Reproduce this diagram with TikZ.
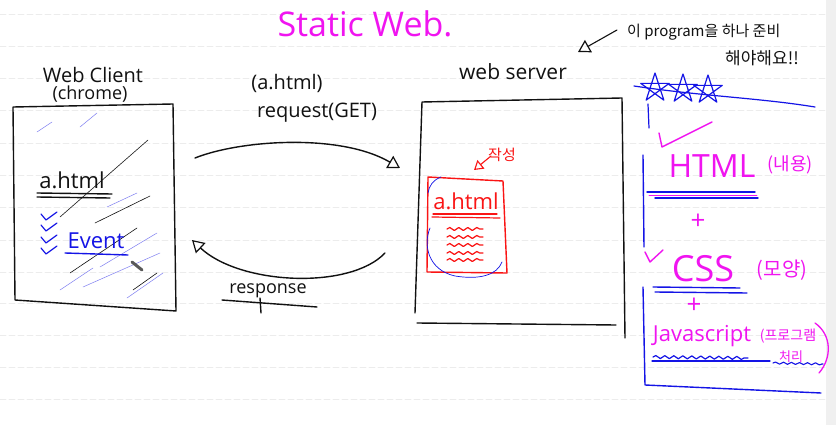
\documentclass[tikz,border=0pt]{standalone}
\usepackage{fontspec}
\setmainfont{Open Sans}
\newfontfamily\kr{Noto Sans CJK KR}
\usetikzlibrary{arrows.meta,decorations.pathmorphing}
\definecolor{mag}{RGB}{240,20,240}
\definecolor{pen}{RGB}{20,20,230}
\definecolor{redpen}{RGB}{250,20,20}
\definecolor{ruled}{RGB}{236,236,236}
\definecolor{ink}{RGB}{17,17,17}
\newcommand{\fs}[1]{\fontsize{#1}{#1}\selectfont}
\begin{document}
\begin{tikzpicture}[x=1pt,y=-1pt,line cap=round,line join=round,
  stroke/.style={line width=1.4pt,draw=ink},
  fine/.style={line width=0.7pt},
  txt/.style={inner sep=0pt,anchor=center,text=ink},
  tip/.style={-{Triangle[open,length=12pt,width=14pt,line width=1.2pt]}},
  wave/.style={decorate,decoration={snake,amplitude=1.5pt,segment length=9pt}}]
\useasboundingbox (0,0) rectangle (836,425);
\fill[white] (0,0) rectangle (836,425);
\foreach \y in {14,46,78,110,143,175,207,240,272,303,335,367,399}
  \draw[ruled,line width=0.8pt,dash pattern=on 6pt off 3pt] (0,\y) -- (826,\y);
\fill[gray!12] (826,0) rectangle (836,425);

% title
\node[txt,text=mag,font=\fs{34}] (title) at (365,24) {Static Web.};

% top-right note
\node[txt,anchor=west,font=\kr\fs{15}] (note1) at (627,32) {이 program을 하나 준비};
\node[txt,anchor=west,font=\kr\fs{17}] (note2) at (725,58) {해야해요!!};
\coordinate (noteS) at (617,30);
\coordinate (noteE) at (578,52);
\draw[stroke,line width=1.1pt,tip] (noteS) -- (noteE);

% client
\node[txt,font=\fs{20}] (clientlbl) at (93,75) {Web Client};
\node[txt,font=\fs{18}] (chrome) at (90,94) {(chrome)};
\coordinate (c1) at (13,107); \coordinate (c2) at (173,104);
\coordinate (c3) at (176,311); \coordinate (c4) at (15,300);
\draw[stroke] (c1) -- (c2) -- (c3) -- (c4) -- cycle;
% hatching
\draw[pen!55,line width=0.5pt] (37,132) -- (52,122) (80,127) -- (97,113)
  (100,267) -- (157,233) (60,290) -- (93,268) (127,298) -- (163,273)
  (83,287) -- (160,253) (107,207) -- (137,193);
\draw[ink,line width=0.6pt] (60,217) -- (148,140) (95,223) -- (150,196)
  (70,273) -- (137,228) (133,290) -- (157,273);
\node[txt,font=\fs{22}] (ahtml) at (72,180) {a.html};
\draw[stroke] (37,193) -- (112,194);
\draw[stroke] (37,197) -- (110,198);
\foreach \y in {218,229,241,252}
  \draw[pen,line width=1.2pt] (41,\y-4) -- (46,\y+2) -- (57,\y-6);
\node[txt,text=pen,font=\fs{22}] (event) at (96,241) {Event};
\draw[pen,line width=1.4pt] (65,253) -- (128,255);
\draw[gray!70!black,line width=3pt] (132,262) -- (142,270);

% request / response
\node[txt,font=\fs{20}] (reqfile) at (287,83) {(a.html)};
\node[txt,font=\fs{20}] (reqlbl) at (317,113) {request(GET)};
\coordinate (reqS) at (195,158);
\coordinate (reqE) at (400,168);
\draw[stroke,tip] (reqS) .. controls (240,140) and (340,133) .. (reqE);
\coordinate (resS) at (385,253);
\coordinate (resE) at (192,240);
\draw[stroke,tip] (resS) .. controls (350,290) and (240,285) .. (resE);
\node[txt,font=\fs{18}] (reslbl) at (268,291) {response};
\draw[stroke] (222,300) -- (317,307);
\draw[stroke] (260,298) -- (261,313);

% server
\node[txt,font=\fs{21}] (serverlbl) at (513,72) {web server};
\coordinate (s1) at (422,102); \coordinate (s2) at (622,98);
\coordinate (s3) at (625,338); \coordinate (s4) at (415,313);
\coordinate (s5) at (417,323); \coordinate (s6) at (616,325);
\draw[stroke] (s4) -- (s1) -- (s2) -- (s3);
\draw[stroke] (s5) -- (s6);
% red document
\node[txt,text=redpen,font=\kr\fs{15}] (made) at (502,155) {작성};
\coordinate (madeS) at (491,156);
\coordinate (madeE) at (474,170);
\draw[redpen,line width=1.1pt,-{Triangle[open,length=9pt,width=11pt,line width=1.1pt]}] (madeS) -- (madeE);
\draw[redpen,line width=1.4pt] (428,177) -- (503,181) -- (507,273) -- (427,272) -- cycle;
\node[txt,text=redpen,font=\fs{22}] (docname) at (466,201) {a.html};
\draw[redpen,line width=1.2pt] (433,214) -- (497,214);
\draw[redpen,line width=1.2pt] (432,217) -- (500,218);
\foreach \y in {229,237,245,253,260}
  \draw[redpen,line width=1.2pt,wave] (447,\y) -- (483,\y);
\draw[pen,fine] (441,177) .. controls (433,180) and (429,186) .. (428,193);
\draw[pen,fine] (430,228) .. controls (423,245) and (428,270) .. (455,276)
  .. controls (480,280) and (497,275) .. (502,262);

% right panel
\foreach \cx/\cy in {655/88,683/89,708/90}
  \draw[pen,line width=1.2pt] (\cx,\cy) ++(-90:15) -- ++(72:28.5) -- ++(216:28.5) -- ++(0:28.5) -- ++(144:28.5) -- cycle;
\draw[pen,line width=1.2pt] (634,86) .. controls (700,96) and (760,98) .. (815,107);
\draw[pen,line width=1.2pt] (648,104) -- (649,128);
\draw[mag,line width=1.4pt] (659,133) -- (662,147) -- (712,122);
\draw[pen,line width=1.4pt] (643,155) -- (644,247);
\node[txt,text=mag,font=\fs{32}] (html) at (712,166) {HTML};
\node[txt,text=mag,font=\kr\fs{18}] (content) at (790,165) {(내용)};
\draw[pen,line width=1.4pt] (647,192) -- (755,192);
\draw[mag,line width=0.8pt] (649,195) -- (757,195);
\draw[pen,line width=1.4pt] (655,198) -- (758,198);
\node[txt,text=mag,font=\fs{26}] (plus1) at (698,222) {+};
\draw[mag,line width=1.4pt] (645,252) -- (650,262) -- (663,250);
\node[txt,text=mag,font=\fs{36}] (css) at (703,269) {CSS};
\node[txt,text=mag,font=\kr\fs{20}] (shape) at (782,270) {(모양)};
\draw[pen,line width=1.4pt] (653,287) -- (740,288);
\draw[pen,line width=1.4pt] (655,292) -- (747,293);
\node[txt,text=mag,font=\fs{26}] (plus2) at (694,306) {+};
\node[txt,text=mag,font=\fs{22}] (js) at (702,336) {Javascript};
\node[txt,text=mag,font=\kr\fs{14}] (prog) at (788,336) {(프로그램};
\node[txt,text=mag,font=\kr\fs{13}] (proc) at (791,357) {처리};
\draw[mag,line width=1.3pt] (815,323) .. controls (832,335) and (832,358) .. (819,373);
\draw[pen,line width=1.2pt,wave] (653,357) -- (748,358);
\draw[pen,line width=1.2pt] (652,361) -- (770,361);
\draw[pen,line width=1.1pt,decorate,decoration={snake,amplitude=1pt,segment length=8pt}] (773,363) -- (823,364);
\draw[pen,line width=1.4pt] (643,287) -- (645,385) -- (821,393);
\end{tikzpicture}
\end{document}
